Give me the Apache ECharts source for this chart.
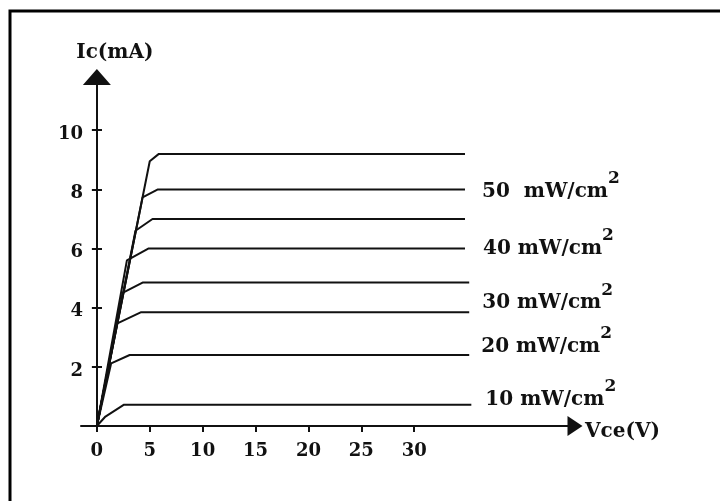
<!DOCTYPE html>
<html>
<head>
<meta charset="utf-8">
<script src="https://cdn.jsdelivr.net/npm/echarts@6/dist/echarts.min.js"></script>
<style>
  html, body { margin: 0; padding: 0; background: #fff; }
  #chart { width: 720px; height: 501px; }
</style>
</head>
<body>
<div id="chart"></div>
<script>
// Ic - Vce curves of a phototransistor, one per irradiance level
const levelIc = [9.2, 8.0, 7.0, 6.0, 4.85, 3.85, 2.4, 0.72];      // flat part (mA)
const kneeVce = [5.0, 4.32, 3.65, 2.84, 2.43, 1.89, 1.35, 0.81];    // end of steep rise (V)
const kneeIc = [8.95, 7.73, 6.6, 5.6, 4.5, 3.46, 2.12, 0.32];       // Ic at end of steep rise (mA)
const flatVce = [5.86, 5.77, 5.26, 4.86, 4.32, 4.19, 3.1, 2.57];    // start of flat part (V)
const endVce = [34.8, 34.8, 34.8, 34.8, 35.2, 35.2, 35.2, 35.4];     // end of line (V)
// irradiance label for some curves (index -> text), empty = no label
const irradiance = ['', '50  mW/cm', '', '40 mW/cm', '', '30 mW/cm', '20 mW/cm', '10 mW/cm'];

const xTicks = [0, 5, 10, 15, 20, 25, 30];
const yTicks = [2, 4, 6, 8, 10];

const FONT = 'DejaVu Serif';
const chart = echarts.init(document.getElementById('chart'));

// label offsets so the text sits like in the drawing
const labelOffset = [[0, 0], [9, 2], [0, 0], [10, 0], [0, 0], [5, -9], [4, -8], [6, -5]];

const series = levelIc.map((lv, i) => {
    const s = {
        type: 'line',
        symbol: 'none',
        silent: true,
        lineStyle: { color: '#111', width: 2 },
        data: [[0, 0], [kneeVce[i], kneeIc[i]], [flatVce[i], lv], [endVce[i], lv]],
    };
    if (irradiance[i]) {
        s.endLabel = {
            show: true,
            formatter: '{t|' + irradiance[i] + '}{s|2}',
            offset: labelOffset[i],
            rich: {
                t: { fontFamily: FONT, fontWeight: 'bold', fontSize: 20, color: '#111' },
                s: { fontFamily: FONT, fontWeight: 'bold', fontSize: 17, color: '#111', padding: [0, 0, 26, 0] },
            },
        };
    }
    return s;
});

const axisFont = { fontFamily: FONT, fontWeight: 'bold', fontSize: 18, color: '#111' };
const yMin = 0, yMax = 11.8;

chart.setOption({
    animation: false,
    backgroundColor: '#fff',
    graphic: [{
        type: 'rect',
        shape: { x: 10, y: 11, width: 800, height: 600 },
        style: { fill: null, stroke: '#000', lineWidth: 3 },
    }],
    grid: { left: 81, right: 145, top: 77, bottom: 75 },
    xAxis: {
        type: 'value',
        min: -1.5,
        max: 45.2,
        splitLine: { show: false },
        name: 'Vce(V)',
        nameLocation: 'end',
        nameGap: 10,
        nameTextStyle: { ...axisFont, fontSize: 20, verticalAlign: 'top', lineHeight: 12 },
        axisLine: {
            lineStyle: { color: '#111', width: 2 },
            symbol: ['none', 'triangle'],
            symbolSize: [20, 15],
        },
        axisTick: { customValues: xTicks, length: 6, lineStyle: { color: '#111', width: 2 } },
        axisLabel: { customValues: xTicks, margin: 16, ...axisFont },
    },
    yAxis: [{
        type: 'value',
        min: yMin,
        max: yMax,
        splitLine: { show: false },
        name: 'Ic(mA)',
        nameLocation: 'end',
        nameGap: 14,
        nameTextStyle: { ...axisFont, fontSize: 20, padding: [0, 0, 0, 36] },
        axisLine: {
            onZero: true,
            lineStyle: { color: '#111', width: 2 },
            symbol: ['none', 'triangle'],
            symbolSize: [28, 16],
        },
        axisTick: { customValues: yTicks, length: 5, lineStyle: { color: '#111', width: 2 } },
        axisLabel: { customValues: yTicks, margin: -2, verticalAlign: 'top', lineHeight: 8, ...axisFont },
    }, {
        // same scale again, only for the half of each tick inside the plot
        type: 'value',
        min: yMin,
        max: yMax,
        position: 'left',
        offset: -16,
        splitLine: { show: false },
        axisLine: { show: false, onZero: false },
        axisTick: { inside: true, customValues: yTicks, length: 5, lineStyle: { color: '#111', width: 2 } },
        axisLabel: { show: false },
    }],
    series: series,
});
</script>
</body>
</html>
